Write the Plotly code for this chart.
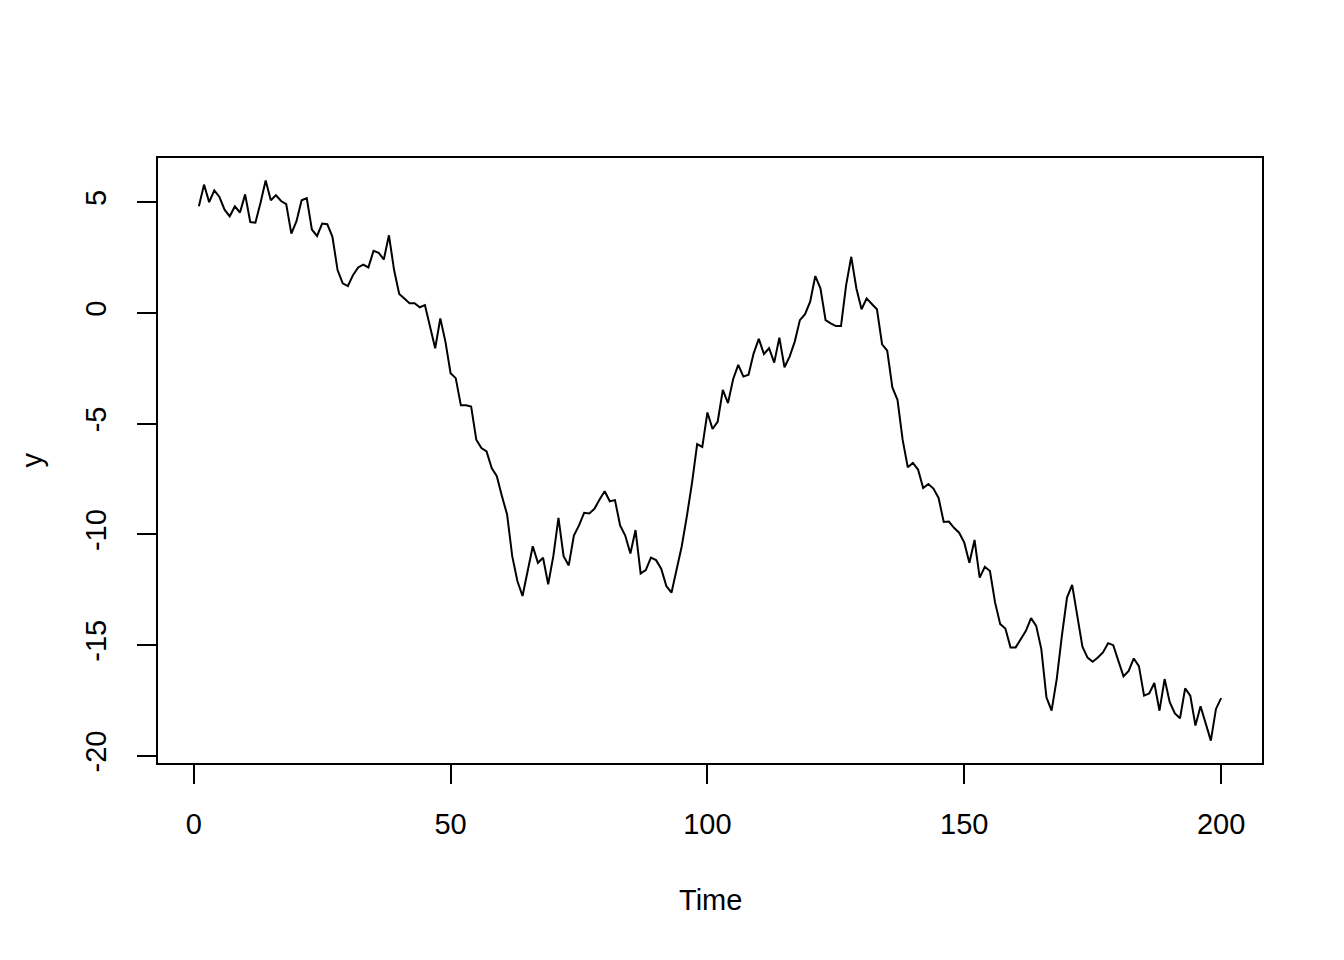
import plotly.graph_objects as go

time = list(range(1, 201))
y = [
    4.82, 5.80, 5.01, 5.54, 5.24, 4.67, 4.37, 4.82, 4.54, 5.36,
    4.11, 4.08, 4.98, 5.99, 5.09, 5.32, 5.06, 4.92, 3.59, 4.15,
    5.09, 5.19, 3.77, 3.48, 4.04, 4.01, 3.44, 1.94, 1.34, 1.22,
    1.71, 2.06, 2.19, 2.06, 2.81, 2.72, 2.42, 3.51, 1.94, 0.86,
    0.66, 0.44, 0.44, 0.26, 0.36, -0.60, -1.59, -0.24, -1.30, -2.72,
    -2.94, -4.17, -4.17, -4.22, -5.72, -6.10, -6.25, -7.00, -7.37, -8.27,
    -9.10, -10.98, -12.10, -12.78, -11.58, -10.53, -11.28, -11.05, -12.25, -10.98,
    -9.25, -10.98, -11.40, -10.05, -9.59, -9.02, -9.05, -8.84, -8.42, -8.05,
    -8.50, -8.45, -9.59, -10.05, -10.86, -9.80, -11.76, -11.61, -11.05, -11.16,
    -11.55, -12.33, -12.63, -11.58, -10.53, -9.17, -7.67, -5.92, -6.05, -4.49,
    -5.24, -4.90, -3.47, -4.07, -2.99, -2.34, -2.87, -2.79, -1.82, -1.17,
    -1.85, -1.59, -2.24, -1.11, -2.45, -1.97, -1.29, -0.32, -0.05, 0.51,
    1.67, 1.12, -0.32, -0.47, -0.59, -0.59, 1.26, 2.54, 1.11, 0.17,
    0.66, 0.41, 0.17, -1.41, -1.70, -3.36, -3.92, -5.72, -6.97, -6.77,
    -7.07, -7.90, -7.72, -7.93, -8.35, -9.44, -9.42, -9.70, -9.92, -10.37,
    -11.28, -10.25, -11.95, -11.46, -11.65, -13.08, -14.05, -14.25, -15.10, -15.10,
    -14.73, -14.35, -13.78, -14.13, -15.18, -17.36, -17.96, -16.53, -14.58, -12.85,
    -12.28, -13.60, -15.07, -15.56, -15.75, -15.56, -15.33, -14.91, -15.00, -15.71,
    -16.41, -16.16, -15.60, -15.95, -17.28, -17.18, -16.71, -17.96, -16.53, -17.58,
    -18.08, -18.30, -16.95, -17.28, -18.63, -17.76, -18.56, -19.31, -17.88, -17.39,
]
x_ticks = [0, 50, 100, 150, 200]
y_ticks = [-20, -15, -10, -5, 0, 5]
y_tick_labels = ["-20", "-15", "-10", "-5", "0", "5"]
x_title = "Time"
y_title = "y"

def r_range(v):
    lo, hi = min(v), max(v)
    pad = (hi - lo) * 0.04
    return [lo - pad, hi + pad]

FONT = "Liberation Sans, Arial, Helvetica, sans-serif"

fig = go.Figure(go.Scatter(x=time, y=y, mode="lines",
                           line=dict(color="black", width=2),
                           hoverinfo="skip"))

axis_common = dict(
    showgrid=False, zeroline=False,
    showline=True, mirror=True, linecolor="black", linewidth=1.5,
    ticks="outside", ticklen=19, tickwidth=1.5, tickcolor="black",
    tickfont=dict(family=FONT, size=29, color="black"),
)
fig.update_xaxes(range=r_range(time), tickvals=x_ticks,
                 ticktext=[str(v) for v in x_ticks],
                 ticklabelstandoff=15, **axis_common)
fig.update_yaxes(range=r_range(y), tickvals=y_ticks, ticktext=y_tick_labels,
                 tickangle=-90, ticklabelstandoff=20, **axis_common)

fig.update_layout(
    width=1344, height=960,
    margin=dict(l=150, r=90, t=150, b=205, pad=0),
    paper_bgcolor="white", plot_bgcolor="white",
    showlegend=False,
    annotations=[
        dict(text=x_title, xref="paper", yref="paper", x=0.5, y=0,
             xanchor="center", yanchor="middle", yshift=-137, showarrow=False,
             font=dict(family=FONT, size=29, color="black")),
        dict(text=y_title, xref="paper", yref="paper", x=0, y=0.5,
             xanchor="center", yanchor="middle", xshift=-127, textangle=-90,
             showarrow=False, font=dict(family=FONT, size=29, color="black")),
    ],
)

fig.write_html("out.html")
